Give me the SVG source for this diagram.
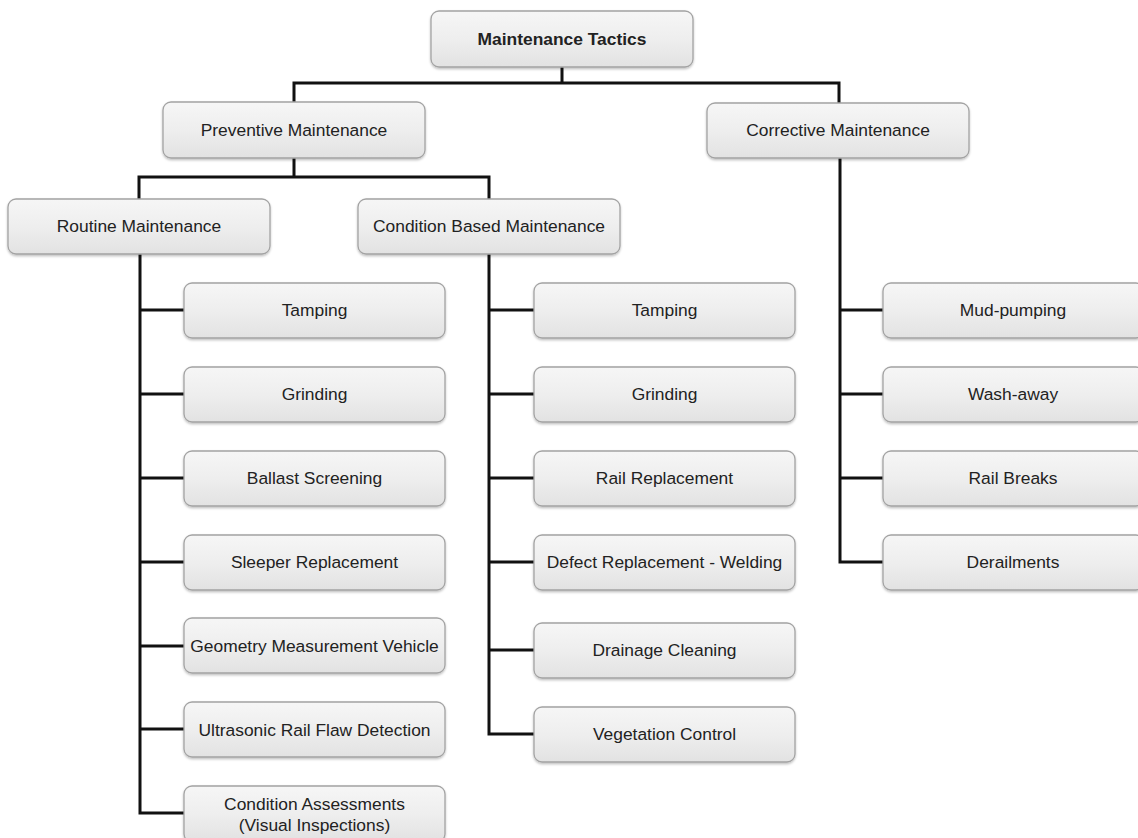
<svg xmlns="http://www.w3.org/2000/svg" width="1138" height="838" viewBox="0 0 1138 838">
  <defs>
    <linearGradient id="boxFill" x1="0" y1="0" x2="0" y2="1">
      <stop offset="0" stop-color="#f6f6f6"/>
      <stop offset="0.5" stop-color="#eeeeee"/>
      <stop offset="1" stop-color="#e2e2e2"/>
    </linearGradient>
    <filter id="shadow" x="-5%" y="-10%" width="110%" height="130%">
      <feDropShadow dx="0" dy="1.5" stdDeviation="1.2" flood-color="#000" flood-opacity="0.25"/>
    </filter>
    <style>
      .box { fill: url(#boxFill); stroke: #a3a3a3; stroke-width: 1.3; filter: url(#shadow); }
      .lbl { font-family: "Liberation Sans", Arial, sans-serif; font-size: 17.4px; fill: #222; text-anchor: middle; }
      .root { font-weight: bold; }
      .conn { fill: none; stroke: #111; stroke-width: 3; stroke-linejoin: miter; stroke-linecap: square; }
    </style>
  </defs>
  <rect width="1138" height="838" fill="#fff"/>

  <!-- connectors -->
  <g id="connectors" class="conn">
    <!-- root to level 1 -->
    <path d="M562 67 V83 M294 102 V83 H839 V103"/>
    <!-- preventive to level 2 -->
    <path d="M294 158 V177 M139 199 V177 H489 V199"/>
    <!-- routine maintenance children -->
    <path d="M140 254 V813 H184 M140 310 H184 M140 394 H184 M140 478 H184 M140 562 H184 M140 646 H184 M140 729 H184"/>
    <!-- condition based maintenance children -->
    <path d="M489 254 V734 H534 M489 310 H534 M489 394 H534 M489 478 H534 M489 562 H534 M489 650 H534"/>
    <!-- corrective maintenance children -->
    <path d="M840 158 V562 H883 M840 310 H883 M840 394 H883 M840 478 H883"/>
  </g>

  <!-- top level -->
  <g id="maintenance-tactics">
    <rect class="box" x="431" y="11" width="262" height="56" rx="8"/>
    <text class="lbl root" x="562" y="45">Maintenance Tactics</text>
  </g>
  <g id="preventive-maintenance">
    <rect class="box" x="163" y="102" width="262" height="56" rx="8"/>
    <text class="lbl" x="294" y="136">Preventive Maintenance</text>
  </g>
  <g id="corrective-maintenance">
    <rect class="box" x="707" y="103" width="262" height="55" rx="8"/>
    <text class="lbl" x="838" y="136">Corrective Maintenance</text>
  </g>
  <g id="routine-maintenance">
    <rect class="box" x="8" y="199" width="262" height="55" rx="8"/>
    <text class="lbl" x="139" y="232">Routine Maintenance</text>
  </g>
  <g id="condition-based-maintenance">
    <rect class="box" x="358" y="199" width="262" height="55" rx="8"/>
    <text class="lbl" x="489" y="232">Condition Based Maintenance</text>
  </g>

  <!-- routine maintenance tasks -->
  <g id="rm-tamping">
    <rect class="box" x="184" y="283" width="261" height="55" rx="8"/>
    <text class="lbl" x="314.5" y="316">Tamping</text>
  </g>
  <g id="rm-grinding">
    <rect class="box" x="184" y="367" width="261" height="55" rx="8"/>
    <text class="lbl" x="314.5" y="400">Grinding</text>
  </g>
  <g id="rm-ballast-screening">
    <rect class="box" x="184" y="451" width="261" height="55" rx="8"/>
    <text class="lbl" x="314.5" y="484">Ballast Screening</text>
  </g>
  <g id="rm-sleeper-replacement">
    <rect class="box" x="184" y="535" width="261" height="55" rx="8"/>
    <text class="lbl" x="314.5" y="568">Sleeper Replacement</text>
  </g>
  <g id="rm-geometry-vehicle">
    <rect class="box" x="184" y="618" width="261" height="55" rx="8"/>
    <text class="lbl" x="314.5" y="652">Geometry Measurement Vehicle</text>
  </g>
  <g id="rm-ultrasonic">
    <rect class="box" x="184" y="702" width="261" height="55" rx="8"/>
    <text class="lbl" x="314.5" y="736">Ultrasonic Rail Flaw Detection</text>
  </g>
  <g id="rm-condition-assessments">
    <rect class="box" x="184" y="786" width="261" height="56" rx="8"/>
    <text class="lbl" x="314.5" y="810">Condition Assessments</text>
    <text class="lbl" x="314.5" y="831">(Visual Inspections)</text>
  </g>

  <!-- condition based maintenance tasks -->
  <g id="cbm-tamping">
    <rect class="box" x="534" y="283" width="261" height="55" rx="8"/>
    <text class="lbl" x="664.5" y="316">Tamping</text>
  </g>
  <g id="cbm-grinding">
    <rect class="box" x="534" y="367" width="261" height="55" rx="8"/>
    <text class="lbl" x="664.5" y="400">Grinding</text>
  </g>
  <g id="cbm-rail-replacement">
    <rect class="box" x="534" y="451" width="261" height="55" rx="8"/>
    <text class="lbl" x="664.5" y="484">Rail Replacement</text>
  </g>
  <g id="cbm-defect-welding">
    <rect class="box" x="534" y="535" width="261" height="55" rx="8"/>
    <text class="lbl" x="664.5" y="568">Defect Replacement - Welding</text>
  </g>
  <g id="cbm-drainage-cleaning">
    <rect class="box" x="534" y="623" width="261" height="55" rx="8"/>
    <text class="lbl" x="664.5" y="656">Drainage Cleaning</text>
  </g>
  <g id="cbm-vegetation-control">
    <rect class="box" x="534" y="707" width="261" height="55" rx="8"/>
    <text class="lbl" x="664.5" y="740">Vegetation Control</text>
  </g>

  <!-- corrective maintenance events -->
  <g id="cm-mud-pumping">
    <rect class="box" x="883" y="283" width="261" height="55" rx="8"/>
    <text class="lbl" x="1013" y="316">Mud-pumping</text>
  </g>
  <g id="cm-wash-away">
    <rect class="box" x="883" y="367" width="261" height="55" rx="8"/>
    <text class="lbl" x="1013" y="400">Wash-away</text>
  </g>
  <g id="cm-rail-breaks">
    <rect class="box" x="883" y="451" width="261" height="55" rx="8"/>
    <text class="lbl" x="1013" y="484">Rail Breaks</text>
  </g>
  <g id="cm-derailments">
    <rect class="box" x="883" y="535" width="261" height="55" rx="8"/>
    <text class="lbl" x="1013" y="568">Derailments</text>
  </g>
</svg>
